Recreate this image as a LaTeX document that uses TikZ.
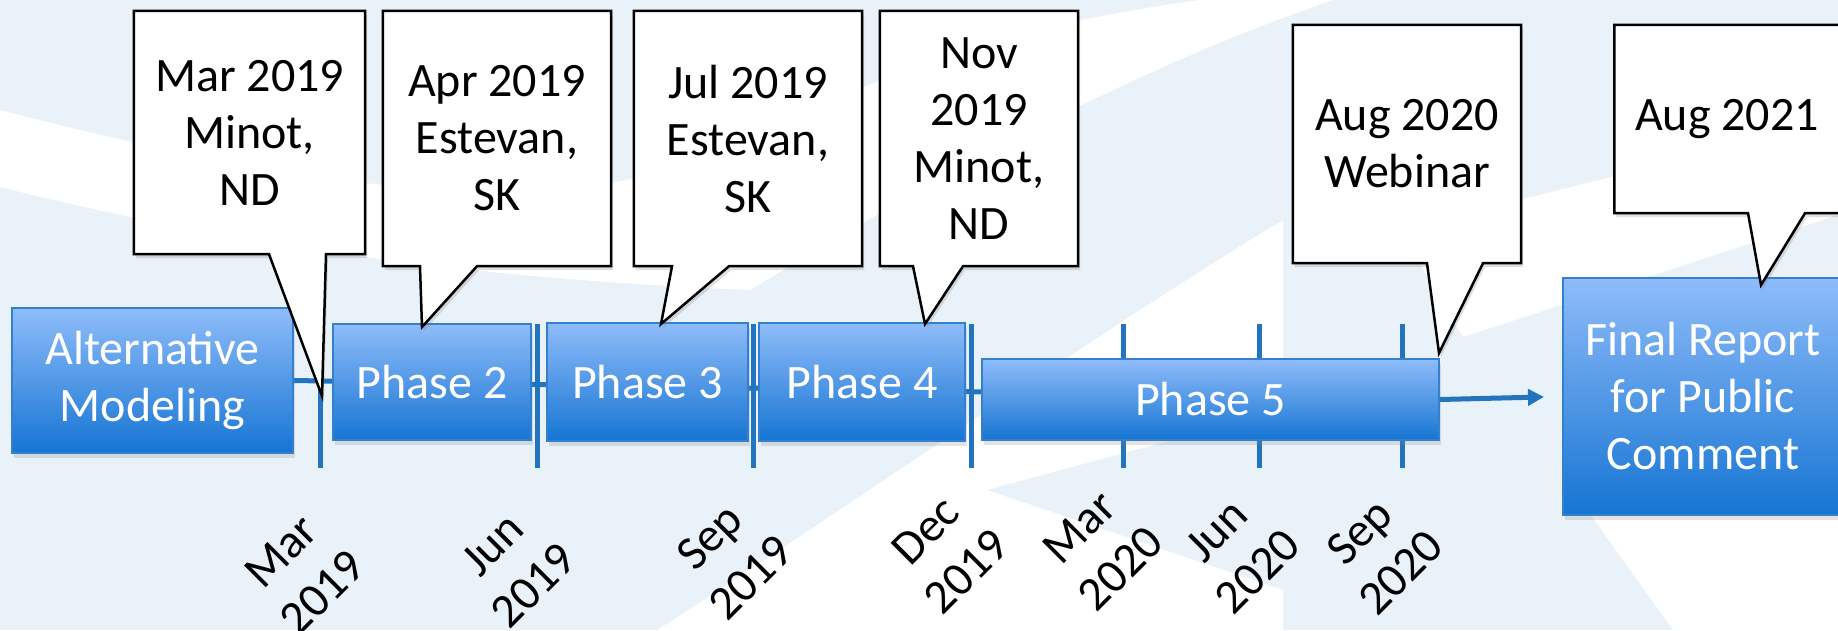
\documentclass[tikz,border=0pt]{standalone}
\usepackage{fontspec}
\setmainfont{Carlito}
\usetikzlibrary{calc, positioning, shadows, arrows.meta}
\definecolor{bg blue}{RGB}{233,241,249}
\definecolor{line blue}{RGB}{35,116,190}
\definecolor{box top}{RGB}{143,188,250}
\definecolor{box bottom}{RGB}{22,117,211}
\definecolor{box edge}{RGB}{52,128,206}
\pgfdeclarelayer{back}
\pgfdeclarelayer{callbg}
\pgfdeclarelayer{front}
\pgfsetlayers{back,main,callbg,front}
\tikzset{
  phasebox/.style={draw=box edge, line width=2pt, top color=box top, bottom color=box bottom,
    text=white, align=center, inner sep=0pt, font=\fontsize{48}{57}\selectfont,
    drop shadow={opacity=0.22, shadow xshift=2pt, shadow yshift=-5pt}},
  calltext/.style={align=center, inner sep=0pt, text=black, font=\fontsize{48}{57}\selectfont},
  callout/.style={draw=black, line width=2.5pt, fill=white,
    drop shadow={opacity=0.25, shadow xshift=2pt, shadow yshift=-4pt}},
  datelabel/.style={align=center, inner sep=0pt, rotate=45, font=\fontsize{48}{58}\selectfont},
  tick/.style={line blue, line width=5pt},
  timeline/.style={line blue, line width=5pt}
}
\begin{document}
\begin{tikzpicture}[x=1pt, y=-1pt]
\begin{pgfonlayer}{back}
  \fill[bg blue] (0,0) rectangle (1838,630);
  % swooshes
  \fill[white] (0,110) .. controls (350,200) and (600,230) .. (800,120)
     .. controls (900,60) and (1050,20) .. (1200,0) -- (1333,0)
     .. controls (1100,80) and (900,200) .. (750,290)
     .. controls (500,280) and (250,250) .. (0,187) -- cycle;
  \fill[white] (657,630) .. controls (800,540) and (1100,330) .. (1283,220)
     -- (1283,410) -- (987,490) -- (1283,590) -- (1283,630) -- cycle;
  \fill[white] (1400,230) -- (1463,337) -- (1838,215) -- (1838,120) -- cycle;
  \fill[white] (1580,500) -- (1673,630) -- (1838,630) -- (1838,500) -- cycle;
\end{pgfonlayer}
\useasboundingbox (0,0) rectangle (1838,630);

\node[phasebox, minimum width=281pt, minimum height=145pt] (alt) at (152.5,380.5) {Alternative\\Modeling};
\node[phasebox, minimum width=198pt, minimum height=116pt] (p2) at (432,382) {Phase 2};
\node[phasebox, minimum width=201pt, minimum height=118pt] (p3) at (647.5,382) {Phase 3};
\node[phasebox, minimum width=206pt, minimum height=118pt] (p4) at (862,382) {Phase 4};
\node[phasebox, minimum width=457pt, minimum height=81pt] (p5) at (1210.5,399.5) {Phase 5};
\node[phasebox, minimum width=280pt, minimum height=237pt] (final) at (1703,396.5) {Final Report\\for Public\\Comment};

\begin{pgfonlayer}{back}
  \foreach \x in {320,537,753,971,1123,1259,1402}{
    \draw[tick] (\x,324) -- (\x,468);
  };
  \draw[timeline] (alt.east) -- (p5.east);
\end{pgfonlayer}
\draw[timeline, -{Triangle[length=16pt,width=16pt]}, shorten >=18pt] (p5.east) -- (final.west);

\foreach \nm/\x/\y/\mon/\yr in {d1/302/572/Mar/2019, d2/513/565/Jun/2019, d3/730/557/Sep/2019,
    d4/946/551/Dec/2019, d5/1100/548/Mar/2020, d6/1237/551/Jun/2020, d7/1380/552/Sep/2020}{
  \node[datelabel] (\nm) at (\x,\y) {\mon\\\yr};
};

\begin{pgfonlayer}{front}
  \node[calltext, minimum width=231pt, minimum height=243pt] (cmar) at (249.5,132.5) {Mar 2019\\Minot,\\ND};
  \node[calltext, minimum width=228pt, minimum height=255pt] (capr) at (497,138.5) {Apr 2019\\Estevan,\\SK};
  \node[calltext, minimum width=228pt, minimum height=255pt] (cjul) at (748,138.5) {Jul 2019\\Estevan,\\SK};
  \node[calltext, minimum width=198pt, minimum height=255pt] (cnov) at (979,138.5) {Nov\\2019\\Minot,\\ND};
  \node[calltext, minimum width=228pt, minimum height=238pt] (caug) at (1407,144) {Aug 2020\\Webinar};
  \node[calltext, minimum width=225pt, minimum height=188pt] (cfin) at (1727,119) {Aug 2021};
\end{pgfonlayer}
\begin{pgfonlayer}{callbg}
  \foreach \nm/\bl/\br/\tip in {cmar/269/326/{322,396}, capr/420/477/{422,327}, cjul/672/729/{661,324},
      cnov/913/963/{925,324}, caug/1427/1483/{1439,353}, cfin/1748/1805/{1761,285}}{
    \draw[callout] (\nm.north west) -- (\nm.north east) -- (\nm.south east)
      -- (\nm.south -| \br,0) -- (\tip) -- (\nm.south -| \bl,0) -- (\nm.south west) -- cycle;
  };
\end{pgfonlayer}
\end{tikzpicture}
\end{document}
